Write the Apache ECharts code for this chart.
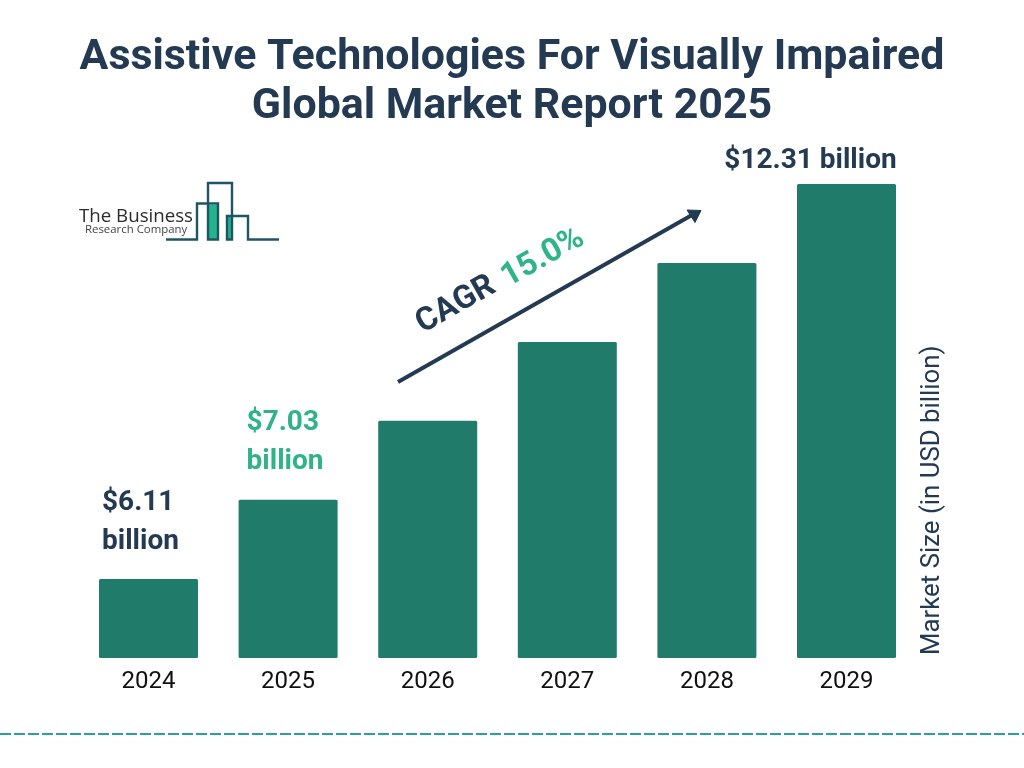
<!DOCTYPE html>
<html><head><meta charset="utf-8">
<style>html,body{margin:0;padding:0;background:#fff}#c{width:1024px;height:768px}</style>
<script src="https://cdn.jsdelivr.net/npm/echarts@6/dist/echarts.min.js"></script>
</head><body><div id="c"></div>
<script>
const titleLines = ['Assistive Technologies For Visually Impaired', 'Global Market Report 2025'];
const years = ['2024','2025','2026','2027','2028','2029'];
const marketSize = [6.11, 7.03, 8.09, 9.30, 10.70, 12.31];
const axisFloor = 5.31;
const axisName = 'Market Size (in USD billion)';
const navy = '#233a52', green = '#2fb585', bar = '#217b6b', logoLine = '#1e5566';

const labelled = {
  0: {formatter: '$6.11\nbillion', color: navy, offset: [-46.5, -13], align: 'left'},
  1: {formatter: '$7.03\nbillion', color: green, offset: [-41.5, -14], align: 'left'},
  5: {formatter: '$12.31 billion', color: navy, offset: [-36, 1], align: 'center'}
};
const barData = marketSize.map((v, i) => ({
  value: v,
  label: labelled[i]
    ? Object.assign({show: true, position: 'top', fontFamily: 'Roboto', fontWeight: 700, fontSize: 28, lineHeight: 38.5}, labelled[i])
    : {show: false}
}));

const text = (x, y, t, size, fill, weight, extra) => Object.assign({
  type: 'text', x, y,
  style: {text: t, fontFamily: 'Roboto', fontSize: size, fontWeight: weight, fill, align: 'center', verticalAlign: 'middle'}
}, extra || {});

const graphic = [
  text(512, 58, titleLines[0], 42.9, navy, 700),
  text(512, 107, titleLines[1], 42.9, navy, 700),
  // logo
  {type: 'rect', shape: {x: 209, y: 205, width: 8, height: 34}, style: {fill: '#22b58a'}},
  {type: 'rect', shape: {x: 228, y: 217, width: 4, height: 22}, style: {fill: '#22b58a'}},
  {type: 'polyline', shape: {points: [[166,239.5],[197,239.5],[197,203.5],[218,203.5],[218,239.5],[208,239.5],[208,183],[232,183],[232,239.5],[227,239.5],[227,216],[248,216],[248,239.5],[279,239.5]]},
    style: {stroke: logoLine, lineWidth: 2.4, fill: 'none'}},
  {type: 'text', x: 79, y: 217, style: {text: 'The Business', fontFamily: 'Open Sans', fontSize: 18.7, fill: '#2b2b2b', align: 'left', verticalAlign: 'middle'}},
  {type: 'text', x: 85, y: 230, style: {text: 'Research Company', fontFamily: 'Open Sans', fontSize: 11.4, fill: '#444', align: 'left', verticalAlign: 'middle'}},
  // CAGR arrow
  {type: 'line', shape: {x1: 398, y1: 382, x2: 692, y2: 215}, style: {stroke: navy, lineWidth: 4}},
  {type: 'polygon', shape: {points: [[701,210.5],[687,210],[695,222.5]]}, style: {fill: navy, stroke: navy, lineWidth: 1, lineJoin: 'round'}},
  text(456, 305, 'CAGR', 32.5, navy, 700, {rotation: 29.5 * Math.PI / 180}),
  text(543, 258, '15.0%', 32.5, green, 700, {rotation: 29.5 * Math.PI / 180}),
  // dashed rule
  {type: 'line', shape: {x1: 0, y1: 734, x2: 1024, y2: 734}, style: {stroke: '#2aa198', lineWidth: 2, lineDash: [11, 3]}}
];

const chart = echarts.init(document.getElementById('c'), null, {renderer: 'canvas'});
chart.setOption({
  animation: false,
  backgroundColor: '#fff',
  grid: {left: 78.7, right: 107.7, top: 184, bottom: 110, containLabel: false},
  xAxis: {
    type: 'category', data: years,
    axisLine: {show: false}, axisTick: {show: false},
    axisLabel: {fontFamily: 'Roboto', fontSize: 24, color: '#111', margin: 12, interval: 0, verticalAlign: 'top'}
  },
  yAxis: {
    type: 'log', min: axisFloor, max: marketSize[5], position: 'right', offset: 16,
    name: axisName, nameLocation: 'start', nameRotate: 90, nameGap: -3,
    nameTextStyle: {fontFamily: 'Roboto', fontSize: 25.8, color: navy, align: 'left', verticalAlign: 'middle'},
    axisLine: {show: false}, axisTick: {show: false}, axisLabel: {show: false}, splitLine: {show: false}
  },
  series: [{type: 'bar', data: barData, barWidth: 99, itemStyle: {color: bar, borderRadius: 1.5}}],
  graphic
});
</script></body></html>
